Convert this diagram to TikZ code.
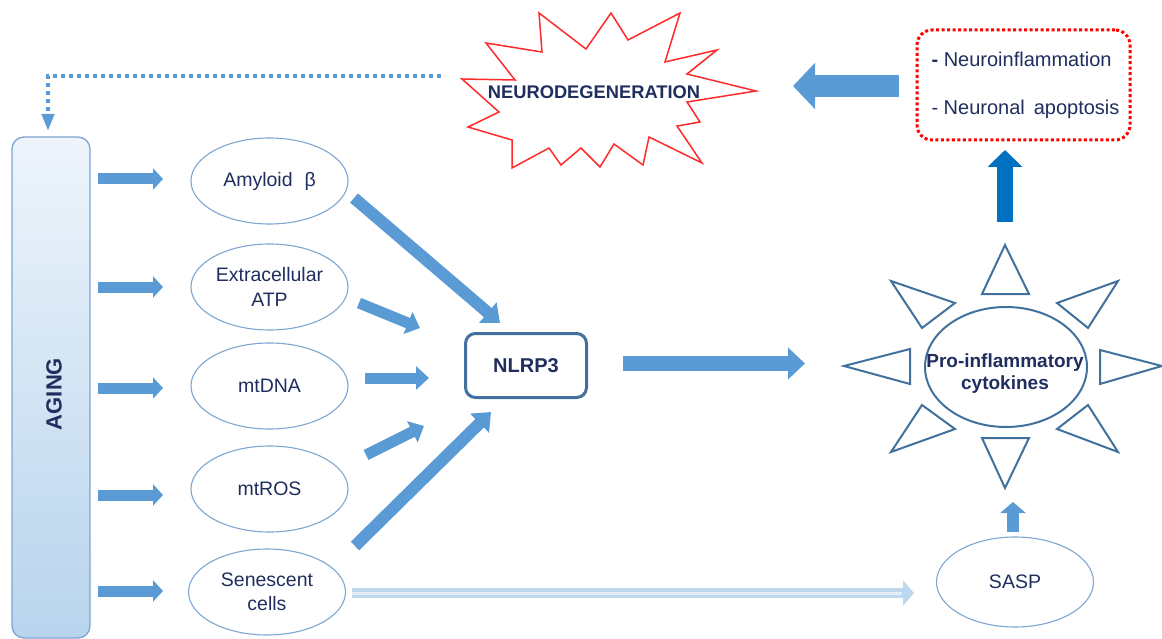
\documentclass[tikz,border=0pt]{standalone}
\usepackage{fontspec}
\setmainfont{Liberation Sans}
\usetikzlibrary{shapes.geometric,arrows.meta,calc}
\definecolor{navy}{HTML}{1F2E5E}
\definecolor{ablue}{HTML}{5B9BD5}
\definecolor{dblue}{HTML}{0070C0}
\definecolor{eline}{HTML}{7EA6D0}
\definecolor{tline}{HTML}{41719C}
\definecolor{lblue}{HTML}{BDD7EE}
\definecolor{llblue}{HTML}{E2EDF8}
\definecolor{starred}{HTML}{FF2A2A}
\begin{document}
\begin{tikzpicture}[x=1pt,y=-1pt,
  txt/.style={text=navy, font=\fontsize{19.5}{25}\selectfont, align=center},
  btxt/.style={text=navy, font=\fontsize{19}{22}\selectfont\bfseries, align=center},
  oval/.style={ellipse, draw=eline, line width=1.1pt, minimum width=157pt, minimum height=86pt, inner sep=0pt, txt},
  barrow/.style={draw=ablue, line width=11pt, -{Triangle[width=21pt,length=10pt]}},
  darrow/.style={draw=ablue, line width=12pt, -{Triangle[width=26pt,length=16pt]}},
  sarrow/.style={draw=ablue, line width=11pt, -{Triangle[width=23pt,length=13pt]}},
  ray/.style={draw=tline, line width=2pt, line join=miter, fill=white}
]
\useasboundingbox (0,0) rectangle (1162,639);

% AGING column
\node[rectangle, rounded corners=12pt, draw=eline, line width=1.3pt,
      top color=llblue!60!white, bottom color=lblue!95!ablue,
      minimum width=78pt, minimum height=501pt, inner sep=0pt] (aging) at (51,387.5) {};
\node[btxt, font=\fontsize{22}{26}\selectfont\bfseries, rotate=90] (agingtxt) at (54,394) {AGING};

% left ellipses
\node[oval] (amy) at (269.5,181) {Amyloid\,\, β};
\node[oval] (atp) at (269.5,287) {Extracellular\\ATP};
\node[oval] (mtdna) at (269.5,386) {mtDNA};
\node[oval] (mtros) at (269.5,489) {mtROS};
\node[oval, font=\fontsize{19.5}{24}\selectfont] (sen) at (267,592) {Senescent\\cells};

% arrows from aging
\foreach \yy/\nm in {179/a,287/b,388/c,495/d,591/e}{
  \coordinate (s\nm) at (98,\yy);
  \coordinate (t\nm) at (163,\yy);
  \draw[barrow] (s\nm) -- (t\nm);
}

% NLRP3
\node[rectangle, rounded corners=10pt, draw=tline, line width=3pt, minimum width=121pt, minimum height=64pt, btxt, font=\fontsize{20}{24}\selectfont\bfseries] (nlrp) at (526,365.5) {NLRP3};

\coordinate (d1s) at (354,198); \coordinate (d1t) at (500,323);
\coordinate (d2s) at (359,303); \coordinate (d2t) at (420,328);
\coordinate (d3s) at (365,378); \coordinate (d3t) at (429,378);
\coordinate (d4s) at (366,455); \coordinate (d4t) at (424,426);
\coordinate (d5s) at (355,546); \coordinate (d5t) at (491,412);
\draw[darrow] (d1s) -- (d1t);
\draw[sarrow] (d2s) -- (d2t);
\draw[sarrow] (d3s) -- (d3t);
\draw[sarrow] (d4s) -- (d4t);
\draw[darrow] (d5s) -- (d5t);

% NLRP3 -> cytokines
\coordinate (ncs) at (623,363.5); \coordinate (nct) at (805,363.5);
\draw[draw=ablue, line width=15pt, -{Triangle[width=31pt,length=17pt]}] (ncs) -- (nct);

% cytokines sun
\draw[ray] (1005,245) -- (1029,294) -- (982,294) -- cycle;
\draw[ray] (1005,488) -- (1029,438) -- (982,438) -- cycle;
\draw[ray] (1162,366) -- (1100,350) -- (1100,384) -- cycle;
\draw[ray] (844,366) -- (910,349) -- (910,384) -- cycle;
\draw[ray] (1118,281) -- (1057,303) -- (1088,328) -- cycle;
\draw[ray] (891,281) -- (955,303) -- (922,328) -- cycle;
\draw[ray] (891,452) -- (955,429) -- (922,405) -- cycle;
\draw[ray] (1118,452) -- (1057,429) -- (1088,405) -- cycle;
\node[ellipse, draw=tline, line width=2pt, minimum width=162pt, minimum height=120pt, inner sep=0pt] (cyto) at (1006,367) {};
\node[btxt] (cytotxt) at (1005,374) {Pro-inflammatory\\cytokines};

% SASP
\node[ellipse, draw=eline, line width=1.1pt, minimum width=157pt, minimum height=90pt, inner sep=0pt, txt] (sasp) at (1015,582) {SASP};
\coordinate (sus) at (1013,532); \coordinate (sut) at (1013,502);
\draw[draw=ablue, line width=12pt, -{Triangle[width=25pt,length=11pt]}] (sus) -- (sut);

% senescent -> SASP
\coordinate (sls) at (352,593); \coordinate (slt) at (914,593);
\draw[draw=lblue, line width=10pt, -{Triangle[width=25pt,length=11pt]}] (sls) -- (slt);
\draw[draw=llblue, line width=3pt] (sls) -- ($(slt)+(-12,0)$);

% up arrow to outcomes
\coordinate (uas) at (1005,222); \coordinate (uat) at (1005,150);
\draw[draw=dblue, line width=16pt, -{Triangle[width=34pt,length=17pt]}] (uas) -- (uat);

% outcomes box
\node[rectangle, rounded corners=15pt, draw=red, line width=3pt, dash pattern=on 3pt off 2.5pt, minimum width=213pt, minimum height=110pt] (out) at (1023.5,85) {};
\node[txt, font=\fontsize{20}{24}\selectfont, anchor=west] (o1) at (928,59) {\textbf{-} Neuroinflammation};
\node[txt, font=\fontsize{20}{24}\selectfont, anchor=west] (o2) at (928,109) {- Neuronal\, apoptosis};

% left arrow to neurodegeneration
\coordinate (las) at (899,86); \coordinate (lat) at (793,86);
\draw[draw=ablue, line width=22pt, -{Triangle[width=45pt,length=22pt]}] (las) -- (lat);

% starburst
\draw[draw=starred, line width=1.5pt, fill=white, line join=miter]
  (462,79) -- (515,80) -- (486,43) -- (542,52) -- (539,13) -- (586,49) -- (611,13)
  -- (628,40) -- (680,13) -- (665,62) -- (717,50) -- (687,74) -- (756,91)
  -- (687,102) -- (700,122) -- (677,126) -- (702,163) -- (649,137) -- (643,165)
  -- (614,144) -- (600,167) -- (581,148) -- (561,165) -- (549,148) -- (512,168)
  -- (512,140) -- (468,127) -- (499,112) -- cycle;
\node[btxt, font=\fontsize{18.3}{22}\selectfont\bfseries] (neuro) at (594,92) {NEURODEGENERATION};

% dotted feedback
\coordinate (fbs) at (441,76); \coordinate (fbt) at (48,131);
\draw[draw=ablue, line width=4pt, dash pattern=on 4pt off 4pt, -{Triangle[width=12pt,length=17pt]}]
  (fbs) -- (fbs -| fbt) -- (fbt);
\end{tikzpicture}
\end{document}
